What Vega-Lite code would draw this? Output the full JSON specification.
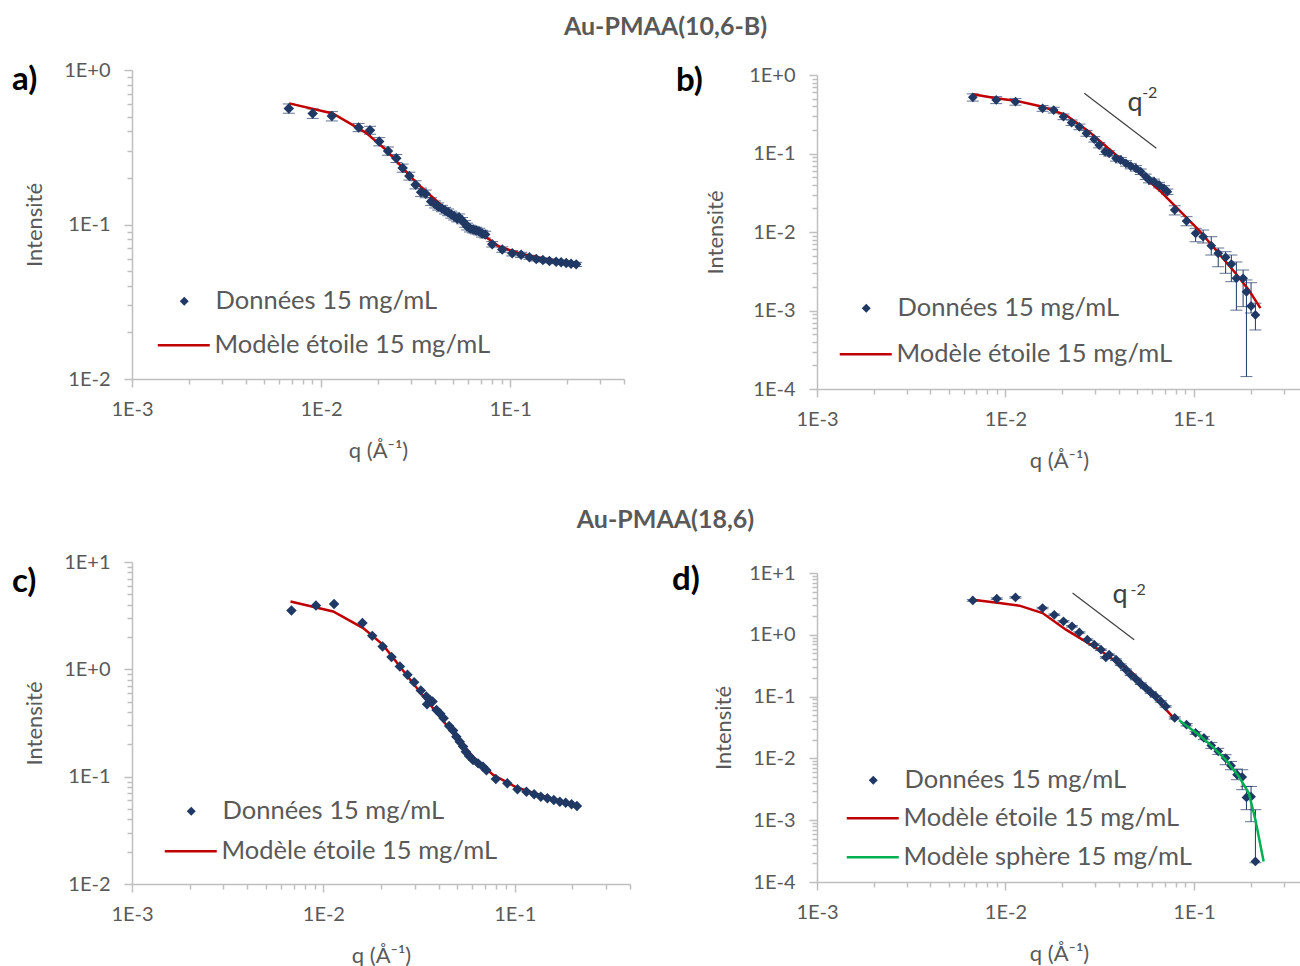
{
  "$schema": "https://vega.github.io/schema/vega-lite/v6.json",
  "padding": {"left": 12, "top": 15, "right": 0, "bottom": 0},
  "spacing": 37,
  "resolve": {"scale": {"x": "independent", "y": "independent", "color": "independent", "stroke": "independent"}, "legend": {"color": "independent", "stroke": "independent"}},
  "datasets": {
    "a_data": [
      {"q":0.00675,"I":0.564,"lo":0.525,"hi":0.603},{"q":0.00903,"I":0.523,"lo":0.486,"hi":0.560},{"q":0.0114,"I":0.503,"lo":0.468,"hi":0.538},
      {"q":0.0158,"I":0.425,"lo":0.399,"hi":0.451},{"q":0.01815,"I":0.408,"lo":0.384,"hi":0.432},{"q":0.0203,"I":0.344,"lo":0.323,"hi":0.365},
      {"q":0.0226,"I":0.299,"lo":0.281,"hi":0.317},{"q":0.0250,"I":0.268,"lo":0.252,"hi":0.284},{"q":0.0270,"I":0.232,"lo":0.218,"hi":0.246},
      {"q":0.0293,"I":0.206,"lo":0.194,"hi":0.218},{"q":0.0316,"I":0.181,"lo":0.170,"hi":0.192},{"q":0.0338,"I":0.162,"lo":0.152,"hi":0.172},
      {"q":0.0357,"I":0.158,"lo":0.149,"hi":0.167},{"q":0.0382,"I":0.141,"lo":0.133,"hi":0.149},{"q":0.0401,"I":0.135,"lo":0.128,"hi":0.142},
      {"q":0.0416,"I":0.131,"lo":0.124,"hi":0.138},{"q":0.0436,"I":0.127,"lo":0.121,"hi":0.133},{"q":0.0453,"I":0.123,"lo":0.117,"hi":0.129},
      {"q":0.0470,"I":0.120,"lo":0.114,"hi":0.126},{"q":0.0488,"I":0.116,"lo":0.110,"hi":0.122},{"q":0.0506,"I":0.113,"lo":0.107,"hi":0.119},
      {"q":0.0525,"I":0.109,"lo":0.104,"hi":0.114},{"q":0.0537,"I":0.111,"lo":0.105,"hi":0.117},{"q":0.0557,"I":0.106,"lo":0.101,"hi":0.111},
      {"q":0.0578,"I":0.101,"lo":0.096,"hi":0.106},{"q":0.0592,"I":0.0971,"lo":0.0922,"hi":0.102},{"q":0.0614,"I":0.0942,"lo":0.0895,"hi":0.0989},
      {"q":0.0637,"I":0.0928,"lo":0.0882,"hi":0.0974},{"q":0.0661,"I":0.0914,"lo":0.0868,"hi":0.0960},{"q":0.0686,"I":0.0901,"lo":0.0856,"hi":0.0946},
      {"q":0.0711,"I":0.0874,"lo":0.0830,"hi":0.0918},{"q":0.0738,"I":0.0861,"lo":0.0818,"hi":0.0904},{"q":0.0804,"I":0.0745,"lo":0.0715,"hi":0.0775},
      {"q":0.0908,"I":0.0689,"lo":0.0661,"hi":0.0717},{"q":0.1026,"I":0.0652,"lo":0.0626,"hi":0.0678},{"q":0.1143,"I":0.0636,"lo":0.0611,"hi":0.0661},
      {"q":0.1265,"I":0.0613,"lo":0.0595,"hi":0.0631},{"q":0.1374,"I":0.0599,"lo":0.0581,"hi":0.0617},{"q":0.149,"I":0.0590,"lo":0.0572,"hi":0.0608},
      {"q":0.1614,"I":0.0581,"lo":0.0564,"hi":0.0598},{"q":0.175,"I":0.0575,"lo":0.0558,"hi":0.0592},{"q":0.186,"I":0.0569,"lo":0.0552,"hi":0.0586},
      {"q":0.198,"I":0.0564,"lo":0.0547,"hi":0.0581},{"q":0.210,"I":0.0558,"lo":0.0541,"hi":0.0575},{"q":0.2235,"I":0.0552,"lo":0.0535,"hi":0.0569}
    ],
    "a_model": [
      {"q":0.00678,"I":0.608},{"q":0.01153,"I":0.523},{"q":0.0173,"I":0.392},{"q":0.0221,"I":0.303},{"q":0.0318,"I":0.1874},{"q":0.0458,"I":0.125},
      {"q":0.0622,"I":0.0971},{"q":0.0746,"I":0.0827},{"q":0.0875,"I":0.0720},{"q":0.1117,"I":0.0651},{"q":0.155,"I":0.0597},{"q":0.2317,"I":0.0556}
    ],
    "b_data": [
      {"q":0.00671,"I":0.520,"lo":0.465,"hi":0.575},{"q":0.00893,"I":0.481,"lo":0.432,"hi":0.530},{"q":0.0113,"I":0.457,"lo":0.413,"hi":0.501},
      {"q":0.01574,"I":0.377,"lo":0.345,"hi":0.409},{"q":0.01803,"I":0.358,"lo":0.328,"hi":0.388},{"q":0.02032,"I":0.294,"lo":0.270,"hi":0.318},
      {"q":0.02244,"I":0.247,"lo":0.227,"hi":0.267},{"q":0.02466,"I":0.219,"lo":0.201,"hi":0.237},{"q":0.0269,"I":0.181,"lo":0.166,"hi":0.196},
      {"q":0.0296,"I":0.152,"lo":0.140,"hi":0.164},{"q":0.0314,"I":0.128,"lo":0.118,"hi":0.138},{"q":0.0338,"I":0.1054,"lo":0.097,"hi":0.1138},
      {"q":0.0355,"I":0.1006,"lo":0.0926,"hi":0.1086},{"q":0.0386,"I":0.0869,"lo":0.0800,"hi":0.0938},{"q":0.0409,"I":0.0826,"lo":0.0760,"hi":0.0892},
      {"q":0.0436,"I":0.0750,"lo":0.0690,"hi":0.0810},{"q":0.0462,"I":0.0693,"lo":0.0638,"hi":0.0748},{"q":0.0492,"I":0.0648,"lo":0.0596,"hi":0.0700},
      {"q":0.0522,"I":0.0587,"lo":0.0540,"hi":0.0634},{"q":0.0555,"I":0.0506,"lo":0.0466,"hi":0.0546},{"q":0.0578,"I":0.0460,"lo":0.0423,"hi":0.0497},
      {"q":0.0614,"I":0.0437,"lo":0.0402,"hi":0.0472},{"q":0.0653,"I":0.0397,"lo":0.0365,"hi":0.0429},{"q":0.0693,"I":0.0360,"lo":0.0331,"hi":0.0389},
      {"q":0.0723,"I":0.0326,"lo":0.0300,"hi":0.0352},{"q":0.0791,"I":0.0191,"lo":0.0165,"hi":0.0216},{"q":0.0914,"I":0.0138,"lo":0.0120,"hi":0.01567},
      {"q":0.1021,"I":0.00962,"lo":0.00752,"hi":0.01114},{"q":0.1119,"I":0.00871,"lo":0.00724,"hi":0.0106},{"q":0.1236,"I":0.00669,"lo":0.00509,"hi":0.00871},
      {"q":0.1346,"I":0.00535,"lo":0.00361,"hi":0.00625},{"q":0.1473,"I":0.00476,"lo":0.00298,"hi":0.00561},{"q":0.158,"I":0.00391,"lo":0.00233,"hi":0.00509},
      {"q":0.168,"I":0.00257,"lo":0.00101,"hi":0.00415},{"q":0.1824,"I":0.00257,"lo":0.00112,"hi":0.00328},{"q":0.190,"I":0.00173,"lo":0.000144,"hi":0.00245},
      {"q":0.201,"I":0.00114,"lo":0.000929,"hi":0.00226},{"q":0.212,"I":0.000877,"lo":0.000565,"hi":0.00124}
    ],
    "b_model": [
      {"q":0.00671,"I":0.568},{"q":0.00893,"I":0.505},{"q":0.0113,"I":0.471},{"q":0.01574,"I":0.395},{"q":0.02094,"I":0.309},{"q":0.0278,"I":0.1897},
      {"q":0.0386,"I":0.0957},{"q":0.0532,"I":0.0532},{"q":0.0653,"I":0.0343},{"q":0.0800,"I":0.0210},{"q":0.1061,"I":0.0106},{"q":0.1355,"I":0.00535},
      {"q":0.1664,"I":0.00298},{"q":0.1955,"I":0.00182},{"q":0.2254,"I":0.00107}
    ],
    "b_slope": [{"q":0.0262,"I":0.585},{"q":0.0632,"I":0.1165}],
    "b_q": [{"q":0.0487,"I":0.436,"t":"q"}],
    "b_sup": [{"q":0.0583,"I":0.585,"t":"-2"}],
    "c_data": [
      {"q":0.00681,"I":3.54},{"q":0.00914,"I":3.94},{"q":0.01137,"I":4.06},{"q":0.0160,"I":2.70},{"q":0.0180,"I":2.05},{"q":0.0204,"I":1.63},
      {"q":0.0227,"I":1.30},{"q":0.0251,"I":1.06},{"q":0.0275,"I":0.889},{"q":0.0298,"I":0.760},{"q":0.0323,"I":0.634},{"q":0.0345,"I":0.557},
      {"q":0.0348,"I":0.473},{"q":0.0360,"I":0.519},{"q":0.0372,"I":0.501},{"q":0.0390,"I":0.419},{"q":0.0408,"I":0.385},{"q":0.0425,"I":0.351},
      {"q":0.0454,"I":0.297},{"q":0.0476,"I":0.269},{"q":0.0495,"I":0.236},{"q":0.0516,"I":0.212},{"q":0.0537,"I":0.1905},{"q":0.0555,"I":0.171},
      {"q":0.0577,"I":0.156},{"q":0.0605,"I":0.143},{"q":0.0643,"I":0.133},{"q":0.0682,"I":0.124},{"q":0.0711,"I":0.115},{"q":0.0796,"I":0.0952},
      {"q":0.0914,"I":0.0867},{"q":0.1033,"I":0.0762},{"q":0.1151,"I":0.0724},{"q":0.1262,"I":0.0685},{"q":0.1368,"I":0.0650},{"q":0.148,"I":0.0629},
      {"q":0.160,"I":0.0607},{"q":0.172,"I":0.0585},{"q":0.1845,"I":0.0572},{"q":0.198,"I":0.0553},{"q":0.2113,"I":0.0533}
    ],
    "c_model": [
      {"q":0.00673,"I":4.29},{"q":0.01125,"I":3.46},{"q":0.01614,"I":2.42},{"q":0.0205,"I":1.69},{"q":0.0294,"I":0.743},{"q":0.0405,"I":0.363},
      {"q":0.0476,"I":0.254},{"q":0.0605,"I":0.1538},{"q":0.0771,"I":0.1038},{"q":0.1019,"I":0.0796},{"q":0.1352,"I":0.0675},{"q":0.218,"I":0.0533}
    ],
    "d_data": [
      {"q":0.00671,"I":3.60,"lo":3.49,"hi":3.71},{"q":0.00899,"I":3.84,"lo":3.72,"hi":3.96},{"q":0.0113,"I":4.03,"lo":3.91,"hi":4.15},
      {"q":0.01574,"I":2.71,"lo":2.63,"hi":2.79},{"q":0.01815,"I":2.11,"lo":2.05,"hi":2.17},{"q":0.02032,"I":1.65,"lo":1.60,"hi":1.70},
      {"q":0.02254,"I":1.37,"lo":1.33,"hi":1.41},{"q":0.02466,"I":1.09,"lo":1.06,"hi":1.12},{"q":0.0272,"I":0.834,"lo":0.809,"hi":0.859},
      {"q":0.0296,"I":0.692,"lo":0.671,"hi":0.713},{"q":0.0321,"I":0.574,"lo":0.557,"hi":0.591},{"q":0.0341,"I":0.431,"lo":0.418,"hi":0.444},
      {"q":0.0355,"I":0.476,"lo":0.462,"hi":0.490},{"q":0.0386,"I":0.395,"lo":0.383,"hi":0.407},{"q":0.0409,"I":0.328,"lo":0.318,"hi":0.338},
      {"q":0.0436,"I":0.272,"lo":0.264,"hi":0.280},{"q":0.0462,"I":0.226,"lo":0.219,"hi":0.233},{"q":0.0492,"I":0.193,"lo":0.187,"hi":0.199},
      {"q":0.0522,"I":0.162,"lo":0.157,"hi":0.167},{"q":0.0555,"I":0.138,"lo":0.134,"hi":0.142},{"q":0.0590,"I":0.117,"lo":0.113,"hi":0.121},
      {"q":0.0627,"I":0.1007,"lo":0.0977,"hi":0.1037},{"q":0.0667,"I":0.0836,"lo":0.0811,"hi":0.0861},{"q":0.0708,"I":0.0694,"lo":0.0673,"hi":0.0715},
      {"q":0.0791,"I":0.0451,"lo":0.0433,"hi":0.0469},{"q":0.0914,"I":0.0351,"lo":0.0335,"hi":0.0367},{"q":0.1021,"I":0.0258,"lo":0.0245,"hi":0.0271},
      {"q":0.1130,"I":0.0214,"lo":0.0201,"hi":0.0227},{"q":0.1236,"I":0.0162,"lo":0.01452,"hi":0.01815},{"q":0.1346,"I":0.0130,"lo":0.01161,"hi":0.01452},
      {"q":0.1473,"I":0.01014,"lo":0.00791,"hi":0.01148},{"q":0.1574,"I":0.00762,"lo":0.00656,"hi":0.00894},{"q":0.1694,"I":0.00545,"lo":0.00452,"hi":0.00673},
      {"q":0.1804,"I":0.00500,"lo":0.00312,"hi":0.00656},{"q":0.190,"I":0.00234,"lo":0.00148,"hi":0.00352},{"q":0.201,"I":0.00240,"lo":0.000946,"hi":0.00352},
      {"q":0.212,"I":0.000215,"lo":0.000205,"hi":0.00148}
    ],
    "d_star": [
      {"q":0.00671,"I":3.70},{"q":0.00929,"I":3.27},{"q":0.01186,"I":2.96},{"q":0.01574,"I":2.25},{"q":0.02094,"I":1.21},{"q":0.0314,"I":0.574},
      {"q":0.0472,"I":0.241},{"q":0.0767,"I":0.0479}
    ],
    "d_sphere": [
      {"q":0.0834,"I":0.0415},{"q":0.1061,"I":0.0242},{"q":0.125,"I":0.01563},{"q":0.1473,"I":0.00953},{"q":0.173,"I":0.00512},{"q":0.1955,"I":0.00275},
      {"q":0.212,"I":0.00102},{"q":0.2344,"I":0.000215}
    ],
    "d_slope": [{"q":0.0227,"I":4.75},{"q":0.0482,"I":0.834}],
    "d_q": [{"q":0.0405,"I":4.46,"t":"q"}],
    "d_sup": [{"q":0.0506,"I":5.37,"t":"-2"}]
  },
  "vconcat": [
    {
      "title": {"text": "Au-PMAA(10,6-B)", "anchor": "middle", "fontSize": 25, "fontWeight": "bold", "color": "#595959", "dx": 9, "offset": 20},
      "spacing": 51,
      "resolve": {"scale": {"x": "independent", "y": "independent", "color": "independent", "stroke": "independent"}, "legend": {"color": "independent", "stroke": "independent"}},
      "hconcat": [
        {
          "width": 492, "height": 309,
          "title": {"text": "a)", "anchor": "start", "frame": "group", "dx": -120, "dy": 37, "offset": 0, "baseline": "top", "fontSize": 33, "fontWeight": "bold", "color": "#000000"},
          "layer": [
            {"data": {"name": "a_data"}, "mark": {"type": "errorbar", "ticks": {"size": 12, "color": "#1f3864", "thickness": 1}, "rule": {"color": "#1f3864", "strokeWidth": 1}},
             "encoding": {
               "x": {"field": "q", "type": "quantitative", "title": "q (Å⁻¹)", "scale": {"type": "log", "domain": [0.001, 0.4], "nice": false}, "axis": {"values": [0.001,0.002,0.003,0.004,0.005,0.006,0.007,0.008,0.009,0.01,0.02,0.03,0.04,0.05,0.06,0.07,0.08,0.09,0.1,0.2,0.3,0.4]}},
               "y": {"field": "lo", "type": "quantitative", "title": "Intensité", "scale": {"type": "log", "domain": [0.01, 1], "nice": false}, "axis": {"titlePadding": 17, "values": [0.01,0.02,0.03,0.04,0.05,0.06,0.07,0.08,0.09,0.1,0.2,0.3,0.4,0.5,0.6,0.7,0.8,0.9,1]}},
               "y2": {"field": "hi"}}},
            {"data": {"name": "a_model"}, "mark": {"type": "line", "strokeWidth": 2.5},
             "encoding": {
               "x": {"field": "q", "type": "quantitative", "title": "q (Å⁻¹)", "scale": {"type": "log", "domain": [0.001, 0.4], "nice": false}},
               "y": {"field": "I", "type": "quantitative", "title": "Intensité", "scale": {"type": "log", "domain": [0.01, 1], "nice": false}},
               "stroke": {"datum": "Modèle étoile 15 mg/mL", "scale": {"domain": ["Modèle étoile 15 mg/mL"], "range": ["#c00000"]},
                 "legend": {"title": null, "orient": "none", "legendX": 39, "legendY": 262.5, "labelOffset": 18, "symbolType": "M-5.2,0H5.2", "symbolSize": 100, "symbolStrokeWidth": 2.5, "padding": 0}}}},
            {"data": {"name": "a_data"}, "mark": {"type": "point", "shape": "diamond", "filled": true, "size": 110, "opacity": 1},
             "encoding": {
               "x": {"field": "q", "type": "quantitative", "title": "q (Å⁻¹)", "scale": {"type": "log", "domain": [0.001, 0.4], "nice": false}},
               "y": {"field": "I", "type": "quantitative", "title": "Intensité", "scale": {"type": "log", "domain": [0.01, 1], "nice": false}},
               "color": {"datum": "Données 15 mg/mL", "scale": {"domain": ["Données 15 mg/mL"], "range": ["#1f3864"]},
                 "legend": {"title": null, "orient": "none", "legendX": 39.5, "legendY": 218.5, "labelOffset": 18.5, "symbolType": "diamond", "symbolSize": 80, "padding": 0}}}}
          ]
        },
        {
          "spacing": -6,
          "resolve": {"scale": {"x": "independent", "y": "independent", "color": "independent", "stroke": "independent"}, "legend": {"color": "independent", "stroke": "independent"}},
          "vconcat": [
            {"width": 1, "height": 1, "data": {"values": []}, "mark": "point", "encoding": {}},
            {
              "width": 484, "height": 314,
              "title": {"text": "b)", "anchor": "start", "frame": "group", "dx": -141, "dy": 33, "offset": 0, "baseline": "top", "fontSize": 33, "fontWeight": "bold", "color": "#000000"},
              "layer": [
                {"data": {"name": "b_data"}, "mark": {"type": "errorbar", "ticks": {"size": 12, "color": "#1f3864", "thickness": 1}, "rule": {"color": "#1f3864", "strokeWidth": 1}},
                 "encoding": {
                   "x": {"field": "q", "type": "quantitative", "title": "q (Å⁻¹)", "scale": {"type": "log", "domain": [0.001, 0.37], "nice": false}, "axis": {"values": [0.001,0.002,0.003,0.004,0.005,0.006,0.007,0.008,0.009,0.01,0.02,0.03,0.04,0.05,0.06,0.07,0.08,0.09,0.1,0.2,0.3]}},
                   "y": {"field": "lo", "type": "quantitative", "title": "Intensité", "scale": {"type": "log", "domain": [0.0001, 1], "nice": false}, "axis": {"titlePadding": 21, "values": [0.0001,0.0002,0.0003,0.0004,0.0005,0.0006,0.0007,0.0008,0.0009,0.001,0.002,0.003,0.004,0.005,0.006,0.007,0.008,0.009,0.01,0.02,0.03,0.04,0.05,0.06,0.07,0.08,0.09,0.1,0.2,0.3,0.4,0.5,0.6,0.7,0.8,0.9,1]}},
                   "y2": {"field": "hi"}}},
                {"data": {"name": "b_model"}, "mark": {"type": "line", "strokeWidth": 2.5},
                 "encoding": {
                   "x": {"field": "q", "type": "quantitative", "title": "q (Å⁻¹)", "scale": {"type": "log", "domain": [0.001, 0.37], "nice": false}},
                   "y": {"field": "I", "type": "quantitative", "title": "Intensité", "scale": {"type": "log", "domain": [0.0001, 1], "nice": false}},
                   "stroke": {"datum": "Modèle étoile 15 mg/mL", "scale": {"domain": ["Modèle étoile 15 mg/mL"], "range": ["#c00000"]},
                     "legend": {"title": null, "orient": "none", "legendX": 36, "legendY": 266.5, "labelOffset": 18, "symbolType": "M-5.2,0H5.2", "symbolSize": 100, "symbolStrokeWidth": 2.5, "padding": 0}}}},
                {"data": {"name": "b_data"}, "mark": {"type": "point", "shape": "diamond", "filled": true, "size": 95, "opacity": 1},
                 "encoding": {
                   "x": {"field": "q", "type": "quantitative", "title": "q (Å⁻¹)", "scale": {"type": "log", "domain": [0.001, 0.37], "nice": false}},
                   "y": {"field": "I", "type": "quantitative", "title": "Intensité", "scale": {"type": "log", "domain": [0.0001, 1], "nice": false}},
                   "color": {"datum": "Données 15 mg/mL", "scale": {"domain": ["Données 15 mg/mL"], "range": ["#1f3864"]},
                     "legend": {"title": null, "orient": "none", "legendX": 36.5, "legendY": 220.5, "labelOffset": 18.5, "symbolType": "diamond", "symbolSize": 80, "padding": 0}}}},
                {"data": {"name": "b_slope"}, "mark": {"type": "line", "color": "#404040", "strokeWidth": 1.2},
                 "encoding": {"x": {"field": "q", "type": "quantitative"}, "y": {"field": "I", "type": "quantitative"}}},
                {"data": {"name": "b_q"}, "mark": {"type": "text", "fontSize": 27, "color": "#404040", "align": "center", "baseline": "middle"},
                 "encoding": {"x": {"field": "q", "type": "quantitative"}, "y": {"field": "I", "type": "quantitative"}, "text": {"field": "t"}}},
                {"data": {"name": "b_sup"}, "mark": {"type": "text", "fontSize": 16, "color": "#404040", "align": "center", "baseline": "middle"},
                 "encoding": {"x": {"field": "q", "type": "quantitative"}, "y": {"field": "I", "type": "quantitative"}, "text": {"field": "t"}}}
              ]
            }
          ]
        }
      ]
    },
    {
      "title": {"text": "Au-PMAA(18,6)", "anchor": "middle", "fontSize": 25, "fontWeight": "bold", "color": "#595959", "dx": 9, "offset": 19},
      "spacing": 41,
      "resolve": {"scale": {"x": "independent", "y": "independent", "color": "independent", "stroke": "independent"}, "legend": {"color": "independent", "stroke": "independent"}},
      "hconcat": [
        {
          "width": 498, "height": 322,
          "title": {"text": "c)", "anchor": "start", "frame": "group", "dx": -120, "dy": 47, "offset": 0, "baseline": "top", "fontSize": 33, "fontWeight": "bold", "color": "#000000"},
          "layer": [
            {"data": {"name": "c_model"}, "mark": {"type": "line", "strokeWidth": 2.5},
             "encoding": {
               "x": {"field": "q", "type": "quantitative", "title": "q (Å⁻¹)", "scale": {"type": "log", "domain": [0.001, 0.4], "nice": false}, "axis": {"values": [0.001,0.002,0.003,0.004,0.005,0.006,0.007,0.008,0.009,0.01,0.02,0.03,0.04,0.05,0.06,0.07,0.08,0.09,0.1,0.2,0.3,0.4]}},
               "y": {"field": "I", "type": "quantitative", "title": "Intensité", "scale": {"type": "log", "domain": [0.01, 10], "nice": false}, "axis": {"titlePadding": 17, "values": [0.01,0.02,0.03,0.04,0.05,0.06,0.07,0.08,0.09,0.1,0.2,0.3,0.4,0.5,0.6,0.7,0.8,0.9,1,2,3,4,5,6,7,8,9,10]}},
               "stroke": {"datum": "Modèle étoile 15 mg/mL", "scale": {"domain": ["Modèle étoile 15 mg/mL"], "range": ["#c00000"]},
                 "legend": {"title": null, "orient": "none", "legendX": 46, "legendY": 276.5, "labelOffset": 18, "symbolType": "M-5.2,0H5.2", "symbolSize": 100, "symbolStrokeWidth": 2.5, "padding": 0}}}},
            {"data": {"name": "c_data"}, "mark": {"type": "point", "shape": "diamond", "filled": true, "size": 110, "opacity": 1},
             "encoding": {
               "x": {"field": "q", "type": "quantitative", "title": "q (Å⁻¹)", "scale": {"type": "log", "domain": [0.001, 0.4], "nice": false}},
               "y": {"field": "I", "type": "quantitative", "title": "Intensité", "scale": {"type": "log", "domain": [0.01, 10], "nice": false}},
               "color": {"datum": "Données 15 mg/mL", "scale": {"domain": ["Données 15 mg/mL"], "range": ["#1f3864"]},
                 "legend": {"title": null, "orient": "none", "legendX": 46.5, "legendY": 236.5, "labelOffset": 18.5, "symbolType": "diamond", "symbolSize": 80, "padding": 0}}}}
          ]
        },
        {
          "spacing": 0,
          "resolve": {"scale": {"x": "independent", "y": "independent", "color": "independent", "stroke": "independent"}, "legend": {"color": "independent", "stroke": "independent"}},
          "vconcat": [
            {"width": 1, "height": 1, "data": {"values": []}, "mark": "point", "encoding": {}},
            {
              "width": 484, "height": 309,
              "title": {"text": "d)", "anchor": "start", "frame": "group", "dx": -145, "dy": 34, "offset": 0, "baseline": "top", "fontSize": 33, "fontWeight": "bold", "color": "#000000"},
              "layer": [
                {"data": {"name": "d_data"}, "mark": {"type": "errorbar", "ticks": {"size": 12, "color": "#1f3864", "thickness": 1}, "rule": {"color": "#1f3864", "strokeWidth": 1}},
                 "encoding": {
                   "x": {"field": "q", "type": "quantitative", "title": "q (Å⁻¹)", "scale": {"type": "log", "domain": [0.001, 0.37], "nice": false}, "axis": {"values": [0.001,0.002,0.003,0.004,0.005,0.006,0.007,0.008,0.009,0.01,0.02,0.03,0.04,0.05,0.06,0.07,0.08,0.09,0.1,0.2,0.3]}},
                   "y": {"field": "lo", "type": "quantitative", "title": "Intensité", "scale": {"type": "log", "domain": [0.0001, 10], "nice": false}, "axis": {"titlePadding": 13, "values": [0.0001,0.0002,0.0003,0.0004,0.0005,0.0006,0.0007,0.0008,0.0009,0.001,0.002,0.003,0.004,0.005,0.006,0.007,0.008,0.009,0.01,0.02,0.03,0.04,0.05,0.06,0.07,0.08,0.09,0.1,0.2,0.3,0.4,0.5,0.6,0.7,0.8,0.9,1,2,3,4,5,6,7,8,9,10]}},
                   "y2": {"field": "hi"}}},
                {"data": {"name": "d_star"}, "mark": {"type": "line", "strokeWidth": 2.5},
                 "encoding": {
                   "x": {"field": "q", "type": "quantitative", "title": "q (Å⁻¹)", "scale": {"type": "log", "domain": [0.001, 0.37], "nice": false}},
                   "y": {"field": "I", "type": "quantitative", "title": "Intensité", "scale": {"type": "log", "domain": [0.0001, 10], "nice": false}},
                   "stroke": {"datum": "Modèle étoile 15 mg/mL", "scale": {"domain": ["Modèle étoile 15 mg/mL", "Modèle sphère 15 mg/mL"], "range": ["#c00000", "#00b050"]},
                     "legend": {"title": null, "orient": "none", "legendX": 43, "legendY": 232.5, "rowPadding": 12, "labelOffset": 18, "symbolType": "M-5.2,0H5.2", "symbolSize": 100, "symbolStrokeWidth": 2.5, "padding": 0}}}},
                {"data": {"name": "d_data"}, "mark": {"type": "point", "shape": "diamond", "filled": true, "size": 95, "opacity": 1},
                 "encoding": {
                   "x": {"field": "q", "type": "quantitative", "title": "q (Å⁻¹)", "scale": {"type": "log", "domain": [0.001, 0.37], "nice": false}},
                   "y": {"field": "I", "type": "quantitative", "title": "Intensité", "scale": {"type": "log", "domain": [0.0001, 10], "nice": false}},
                   "color": {"datum": "Données 15 mg/mL", "scale": {"domain": ["Données 15 mg/mL"], "range": ["#1f3864"]},
                     "legend": {"title": null, "orient": "none", "legendX": 43.5, "legendY": 194.5, "labelOffset": 18.5, "symbolType": "diamond", "symbolSize": 80, "padding": 0}}}},
                {"data": {"name": "d_sphere"}, "mark": {"type": "line", "strokeWidth": 2.5},
                 "encoding": {
                   "x": {"field": "q", "type": "quantitative"},
                   "y": {"field": "I", "type": "quantitative"},
                   "stroke": {"datum": "Modèle sphère 15 mg/mL"}}},
                {"data": {"name": "d_slope"}, "mark": {"type": "line", "color": "#404040", "strokeWidth": 1.2},
                 "encoding": {"x": {"field": "q", "type": "quantitative"}, "y": {"field": "I", "type": "quantitative"}}},
                {"data": {"name": "d_q"}, "mark": {"type": "text", "fontSize": 27, "color": "#404040", "align": "center", "baseline": "middle"},
                 "encoding": {"x": {"field": "q", "type": "quantitative"}, "y": {"field": "I", "type": "quantitative"}, "text": {"field": "t"}}},
                {"data": {"name": "d_sup"}, "mark": {"type": "text", "fontSize": 16, "color": "#404040", "align": "center", "baseline": "middle"},
                 "encoding": {"x": {"field": "q", "type": "quantitative"}, "y": {"field": "I", "type": "quantitative"}, "text": {"field": "t"}}}
              ]
            }
          ]
        }
      ]
    }
  ],
  "config": {
    "font": "Lato",
    "view": {"stroke": null},
    "axis": {
      "grid": false, "domainColor": "#bfbfbf", "domainWidth": 1.5, "tickColor": "#bfbfbf", "tickWidth": 1.5,
      "tickSize": {"condition": {"test": "abs(log(datum.value)/LN10 - round(log(datum.value)/LN10)) < 0.00001", "value": 8}, "value": 5},
      "labelColor": "#595959", "labelFontSize": 20, "labelFont": "Lato", "labelOverlap": false, "labelFlush": false,
      "labelExpr": "abs(log(datum.value)/LN10 - round(log(datum.value)/LN10)) < 0.00001 ? '1E' + (round(log(datum.value)/LN10) >= 0 ? '+' : '') + round(log(datum.value)/LN10) : ''",
      "titleColor": "#595959", "titleFontSize": 22, "titleFontWeight": "normal", "titleFont": "Lato"
    },
    "axisX": {"labelPadding": 12, "titlePadding": 21},
    "axisY": {"labelPadding": 14, "titlePadding": 18},
    "legend": {"labelFont": "Lato", "labelFontSize": 25.5, "labelColor": "#595959", "labelLimit": 400},
    "title": {"font": "Lato"}
  }
}
